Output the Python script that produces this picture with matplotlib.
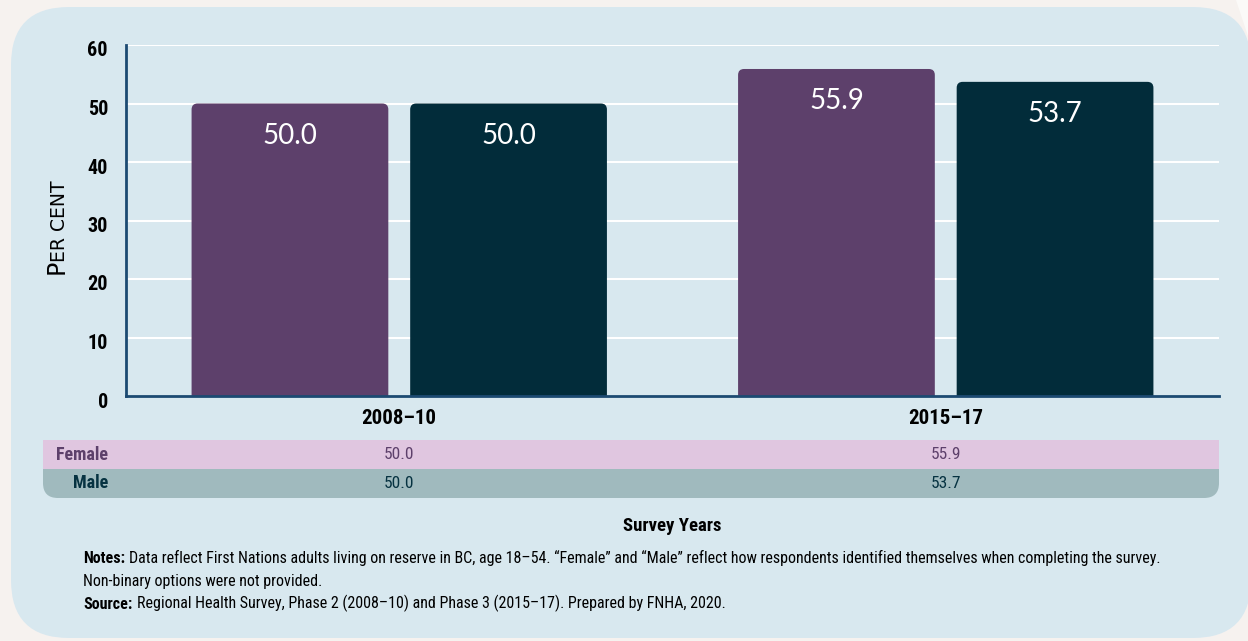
import matplotlib
matplotlib.use("Agg")
import matplotlib.pyplot as plt
from matplotlib.patches import FancyBboxPatch, PathPatch, Polygon
from matplotlib.path import Path
from matplotlib.text import Annotation
from matplotlib.transforms import blended_transform_factory, ScaledTranslation
import numpy as np

# ---- data ----
categories = ["2008\u201310", "2015\u201317"]
series_names = ["Female", "Male"]
female = [50.0, 55.9]
male = [50.0, 53.7]
y_ticks = [0, 10, 20, 30, 40, 50, 60]

# ---- style ----
BG = "#f6f2ef"
PANEL = "#d8e8ef"
FEMALE_C = "#5d406b"
MALE_C = "#022c3a"
FEMALE_ROW = "#e0c6e0"
MALE_ROW = "#a0babe"
AXIS_C = "#1c4a72"
NARROW = ["Roboto Condensed", "DejaVu Sans"]
SANS = ["Lato", "DejaVu Sans"]

W, H = 1248, 641
fig = plt.figure(figsize=(W / 100, H / 100), dpi=100, facecolor=BG)

# background layer in pixel coordinates
bg = fig.add_axes([0, 0, 1, 1], zorder=-10)
bg.set_xlim(0, W)
bg.set_ylim(H, 0)
bg.axis("off")
bg.add_patch(Polygon([(1236, 0), (1248, 0), (1248, 36)], closed=True,
                     facecolor="#fbfaf8", edgecolor="none"))
bg.add_patch(FancyBboxPatch((11, 7), 1240, 631,
                            boxstyle="round,pad=0,rounding_size=58",
                            facecolor=PANEL, edgecolor="none"))

# ---- main axes ----
ax_l, ax_r, ax_t, ax_b = 126, 1219, 45, 396
ax = fig.add_axes([ax_l / W, 1 - ax_b / H, (ax_r - ax_l) / W, (ax_b - ax_t) / H])
ax.set_facecolor("none")
ax.set_xlim(-0.5, 1.5)
ax.set_ylim(0, 60)

for v in y_ticks[1:]:
    ax.axhline(v, color="white", lw=1.5, zorder=0)

x = np.arange(len(categories))
bw, off = 0.36, 0.2
bars_f = ax.bar(x - off, female, width=bw, color=FEMALE_C, zorder=2)
bars_m = ax.bar(x + off, male, width=bw, color=MALE_C, zorder=2)

# rounded tops: replace each bar with a rounded box of the same geometry
px_x = 2.0 / (ax_r - ax_l)        # data x units per pixel
px_y = 60.0 / (ax_b - ax_t)       # data y units per pixel
radius_px = 6
for bars in (bars_f, bars_m):
    for b in bars:
        b.set_visible(False)
        bx, bwid, bh = b.get_x(), b.get_width(), b.get_height()
        ax.add_patch(FancyBboxPatch(
            (bx, -5), bwid, bh + 5,
            boxstyle=f"round,pad=0,rounding_size={radius_px * px_x}",
            mutation_aspect=px_y / px_x,
            facecolor=b.get_facecolor(), edgecolor="none", zorder=2,
            clip_on=True))
        ax.text(bx + bwid / 2, bh, f"{bh:.1f}", ha="center", va="center",
                color="white", fontsize=20, family=SANS, zorder=3,
                transform=ax.transData + ScaledTranslation(0, -32 / 100, fig.dpi_scale_trans))

for s in ("top", "right"):
    ax.spines[s].set_visible(False)
for s in ("left", "bottom"):
    ax.spines[s].set_color(AXIS_C)
    ax.spines[s].set_linewidth(2)
ax.set_xticks([])
ax.set_yticks([])

# y tick labels
ylab_tr = blended_transform_factory(fig.transFigure, ax.transData)
for v in y_ticks:
    ax.text(108 / W, v, str(v), ha="right", va="center", fontsize=14.5,
            fontweight="bold", family=NARROW, color="black",
            transform=ylab_tr + ScaledTranslation(0, -6 / 100, fig.dpi_scale_trans))

# category labels
cat_tr = blended_transform_factory(ax.transData, fig.transFigure)
for xi, c in zip(x, categories):
    ax.text(xi, 1 - 418 / H, c, ha="center", va="center", fontsize=15,
            fontweight="bold", family=NARROW, color="black", transform=cat_tr)

# y axis title in small caps
YL = ["DejaVu Sans"]
p = fig.text(57 / W, 1 - 274 / H, "P", rotation=90, ha="center", va="bottom",
             fontsize=17, family=YL, color="black")
fig.add_artist(Annotation(
    "ER CENT", xy=(1, 1), xycoords=p, xytext=(0, -1.5), textcoords="offset points",
    rotation=90, ha="right", va="bottom", fontsize=13.5, family=YL, color="black"))

# ---- data table under the axis ----
rows_top, row_h = 440, 29
tl, tr = 43, ax_r
r = 15
bg.add_patch(Polygon([(tl, rows_top), (tr, rows_top), (tr, rows_top + row_h),
                      (tl, rows_top + row_h)], closed=True,
                     facecolor=FEMALE_ROW, edgecolor="none"))
y0, y1 = rows_top + row_h, rows_top + 2 * row_h
verts = [(tl, y0), (tr, y0), (tr, y1 - r), (tr, y1), (tr - r, y1),
         (tl + r, y1), (tl, y1), (tl, y1 - r), (tl, y0)]
codes = [Path.MOVETO, Path.LINETO, Path.LINETO, Path.CURVE3, Path.CURVE3,
         Path.LINETO, Path.CURVE3, Path.CURVE3, Path.CLOSEPOLY]
bg.add_patch(PathPatch(Path(verts, codes), facecolor=MALE_ROW, edgecolor="none"))

row_vals = [female, male]
row_cols = [FEMALE_C, "#063241"]
for i, (name, vals, col) in enumerate(zip(series_names, row_vals, row_cols)):
    yc = 1 - (rows_top + row_h * (i + 0.5)) / H
    fig.text(108 / W, yc, name, ha="right", va="center", fontsize=13,
             fontweight="bold", family=NARROW, color=col)
    for xi, v in zip(x, vals):
        ax.text(xi, yc, f"{v:.1f}", ha="center", va="center", fontsize=12.5,
                family=NARROW, color=col, transform=cat_tr)

# x axis title
ax.text(0.5, 1 - 526 / H, "Survey Years", ha="center", va="center",
        fontsize=13.5, fontweight="bold", family=NARROW, color="black",
        transform=blended_transform_factory(ax.transAxes, fig.transFigure))

# notes and source
NOTE_FS = 11.5

def lead_text(xp, yp, head, body):
    t = fig.text(xp / W, 1 - yp / H, head, ha="left", va="baseline",
                 fontsize=NOTE_FS, fontweight="bold", family=NARROW, color="black")
    fig.add_artist(Annotation(
        body, xy=(1, 0), xycoords=t, xytext=(3, 0), textcoords="offset points",
        ha="left", va="bottom", fontsize=NOTE_FS, family=NARROW, color="black"))
    return t

lead_text(83, 563, "Notes:",
          "Data reflect First Nations adults living on reserve in BC, age 18\u201354. "
          "\u201cFemale\u201d and \u201cMale\u201d reflect how respondents identified "
          "themselves when completing the survey.")
fig.text(83 / W, 1 - 586 / H, "Non-binary options were not provided.",
         ha="left", va="baseline", fontsize=NOTE_FS, family=NARROW, color="black")
lead_text(83, 609, "Source:",
          "Regional Health Survey, Phase 2 (2008\u201310) and Phase 3 (2015\u201317). "
          "Prepared by FNHA, 2020.")

fig.savefig("out.png", dpi=100, facecolor=BG)
